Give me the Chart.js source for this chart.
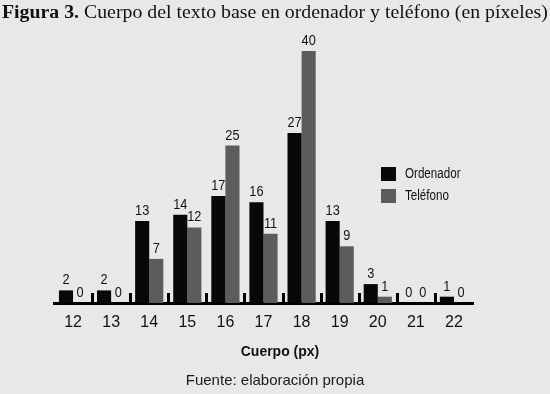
<!DOCTYPE html>
<html><head><meta charset="utf-8">
<script src="https://cdn.jsdelivr.net/npm/chart.js@4"></script>
<style>
html,body{margin:0;padding:0;background:#e8e8e8;}
#wrap{width:550px;height:394px;position:relative;}
canvas{display:block;}
</style></head>
<body><div id="wrap"><canvas id="c" width="550" height="394"></canvas></div>
<script>
const categories = ['12','13','14','15','16','17','18','19','20','21','22'];
const ordenador = [2,2,13,14,17,16,27,13,3,0,1];
const telefono  = [0,0,7,12,25,11,40,9,1,0,0];
const seriesNames = ['Ordenador','Teléfono'];
const seriesColors = ['#080808','#5c5c5c'];
const titleBold = 'Figura 3.';
const titleRest = ' Cuerpo del texto base en ordenador y teléfono (en píxeles)';
const axisTitle = 'Cuerpo (px)';
const sourceNote = 'Fuente: elaboración propia';

const SANS = '"Liberation Sans", Arial, Helvetica, sans-serif';
const SERIF = '"Liberation Serif", "DejaVu Serif", serif';

function condensed(c, text, x, y, sx, align){
  c.save();
  c.translate(x, y);
  c.scale(sx, 1);
  c.textAlign = align;
  c.fillText(text, 0, 0);
  c.restore();
}

const deco = {
  id:'deco',
  beforeDraw(chart){
    const c=chart.ctx; c.save(); c.fillStyle='#e8e8e8'; c.fillRect(0,0,chart.width,chart.height); c.restore();
  },
  afterDatasetsDraw(chart){
    const c=chart.ctx, x=chart.scales.x, area=chart.chartArea;
    c.save();
    // value labels
    c.font = '15px '+SANS; c.fillStyle='#111'; c.textBaseline='alphabetic';
    chart.data.datasets.forEach((ds,di)=>{
      const meta=chart.getDatasetMeta(di);
      meta.data.forEach((bar,i)=>{
        condensed(c, String(ds.data[i]), bar.x, bar.y-6, 0.85, 'center');
      });
    });
    // separator ticks between categories
    c.fillStyle='#000';
    for(let i=0;i<categories.length-1;i++){
      const bx=(x.getPixelForValue(i)+x.getPixelForValue(i+1))/2;
      c.fillRect(Math.round(bx)-1, area.bottom-10, 3, 10);
    }
    // legend
    const lx=381, ly=[167,189];
    seriesNames.forEach((n,i)=>{
      c.fillStyle=seriesColors[i]; c.fillRect(lx,ly[i],15,14);
      c.fillStyle='#111'; c.font='14px '+SANS; c.textBaseline='middle';
      condensed(c, n, lx+24, ly[i]+7.5, 0.83, 'left');
    });
    // axis title
    c.font='bold 14px '+SANS; c.textAlign='center'; c.textBaseline='alphabetic'; c.fillStyle='#111';
    c.fillText(axisTitle, 280, 356);
    // source
    c.font='15px '+SANS; c.fillStyle='#1a1a1a';
    c.fillText(sourceNote, 275, 385);
    // title
    const widthAt=(sz)=>{c.font='bold '+sz+'px '+SERIF; const a=c.measureText(titleBold).width; c.font=sz+'px '+SERIF; return a+c.measureText(titleRest).width;};
    const s = 17*546/widthAt(17);
    c.textAlign='left'; c.fillStyle='#111';
    c.font='bold '+s+'px '+SERIF; c.fillText(titleBold,2,18);
    const bw=c.measureText(titleBold).width;
    c.font=s+'px '+SERIF; c.fillText(titleRest,2+bw,18);
    c.restore();
  }
};

new Chart(document.getElementById('c'),{
  type:'bar',
  data:{labels:categories,datasets:[
    {label:seriesNames[0],data:ordenador,backgroundColor:seriesColors[0],categoryPercentage:0.74,barPercentage:1},
    {label:seriesNames[1],data:telefono,backgroundColor:seriesColors[1],categoryPercentage:0.74,barPercentage:1}
  ]},
  options:{
    responsive:false, devicePixelRatio:1, animation:false,
    layout:{padding:{left:54,right:77,top:51,bottom:51}},
    plugins:{legend:{display:false},tooltip:{enabled:false},title:{display:false}},
    scales:{
      y:{display:false,min:0,max:40},
      x:{
        grid:{display:false,drawTicks:false},
        border:{display:true,color:'#000',width:3},
        ticks:{color:'#111',font:{size:16,family:SANS},padding:10,maxRotation:0},
        afterFit(s){s.height=40;}
      }
    }
  },
  plugins:[deco]
});
</script>
</body></html>
